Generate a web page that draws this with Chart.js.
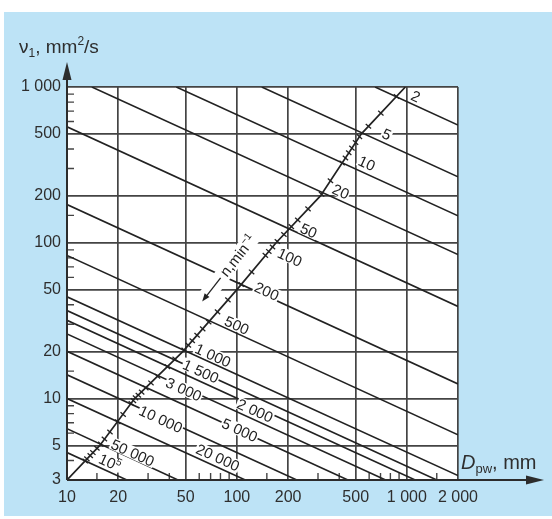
<!DOCTYPE html>
<html>
<head>
<meta charset="utf-8">
<title>Required viscosity</title>
<script src="https://cdn.jsdelivr.net/npm/chart.js@4.4.1/dist/chart.umd.min.js"></script>
<style>
  html, body { margin: 0; padding: 0; background: #fff; }
  canvas { display: block; }
</style>
</head>
<body>
<canvas id="chart" width="552" height="519"></canvas>
<script>
// axis ticks
const xTicks = [10, 20, 50, 100, 200, 500, 1000, 2000];
const yTicks = [3, 5, 10, 20, 50, 100, 200, 500, 1000];
const xMinor = [15, 30, 40, 60, 70, 80, 90, 150, 300, 400, 600, 700, 800, 900, 1500];
const yMinor = [4, 6, 7, 8, 9, 15, 30, 40, 60, 70, 80, 90, 150, 300, 400, 600, 700, 800, 900];

// speed lines n (min^-1): visible start / end
const speedN  = [2, 5, 10, 20, 50, 200, 500, 1000, 1500, 2000, 3000, 5000, 10000, 20000, 50000, 100000];
const startD  = [650, 140, 44, 14, 10, 10, 10, 10, 10, 10, 10, 10, 10, 10, 10, 10];
const startNu = [1000, 1000, 1000, 1000, 555, 176, 83, 45, 36.7, 31.8, 26, 20.1, 14.2, 10, 6.4, 4.5];
const endD    = [2000, 2000, 2000, 2000, 2000, 2000, 2000, 2000, 1500, 1120, 750, 450, 225, 112, 45, 22.5];
const endNu   = [570, 265, 149, 84, 39, 12.4, 5.85, 3.2, 3, 3, 3, 3, 3, 3, 3, 3];

// n scale curve and its hatch marks
const curveD  = [10, 15.6, 25, 48, 100, 170, 310, 540, 980];
const curveNu = [3, 5, 10, 20, 50, 100, 200, 500, 1000];
const markD  = [869, 703, 594, 526, 499, 475, 455, 435, 416, 355, 315, 262, 228, 209, 189, 173, 162, 154,
                147, 122, 106, 88.5, 76.9, 68.2, 62.9, 58.3, 54.6, 51.8, 48.9, 43.3, 39, 34.1, 31.2, 29.1,
                27.5, 26.3, 25.3, 24.6, 23.9, 21.4, 19.9, 17.9, 16.6, 15.8, 15, 14.2, 13.7, 13.1, 12.8];
const markNu = [870, 680, 560, 480, 440, 405, 378, 350, 325, 250, 205, 165, 140, 127, 113, 102, 94, 88,
                83, 65, 54, 43, 36, 31, 28, 25.5, 23.5, 22, 20.5, 17.9, 16, 13.9, 12.6, 11.7,
                11, 10.5, 10.1, 9.7, 9.3, 7.9, 7.1, 6.1, 5.5, 5.1, 4.8, 4.5, 4.3, 4.1, 3.97];

// speed labels
const labelText = ['2', '5', '10', '20', '50', '100', '200', '500', '1 000', '1 500', '3 000', '2 000', '5 000', '10 000', '20 000', '50 000', '10'];
const labelSup  = ['', '', '', '', '', '', '', '', '', '', '', '', '', '', '', '', '5'];
const labelD    = [1130, 762, 582, 409, 265, 205, 150, 100, 72.3, 61.4, 48.7, 128, 104, 35.7, 77.3, 24.4, 17.9];
const labelNu   = [875, 499, 325, 214, 120, 81, 49, 29.6, 19, 15, 11.5, 8.4, 6.3, 7.4, 4.2, 4.5, 3.9];

const FONT = '"Liberation Sans", Arial, sans-serif';
const BLUE = '#bde3f6';
const INK = '#222';
const GRID = '#444';
const TXT = '#2e2e2e';

const fmt = v => v >= 1000 ? String(v).replace(/(\d{3})$/, ' $1') : String(v);

function rich(ctx, x, y, parts) {
  for (const p of parts) {
    ctx.font = (p.it ? 'italic ' : '') + p.s + 'px ' + FONT;
    ctx.fillText(p.t, x, y + (p.dy || 0));
    x += ctx.measureText(p.t).width;
  }
}

function drawLabel(ctx, text, sup, x, y, rot) {
  const fs = 15;
  ctx.save();
  ctx.translate(x, y);
  ctx.rotate(rot * Math.PI / 180);
  ctx.font = fs + 'px ' + FONT;
  const w = ctx.measureText(text).width;
  let ws = 0;
  if (sup) { ctx.font = '10px ' + FONT; ws = ctx.measureText(sup).width; }
  const tot = w + ws;
  ctx.fillStyle = '#fff';
  ctx.fillRect(-tot / 2 - 1, -fs * 0.42, tot + 2, fs * 0.84);
  ctx.fillStyle = INK;
  ctx.textBaseline = 'alphabetic';
  ctx.font = fs + 'px ' + FONT;
  ctx.fillText(text, -tot / 2, fs * 0.36);
  if (sup) { ctx.font = '10px ' + FONT; ctx.fillText(sup, -tot / 2 + w, fs * 0.36 - 6); }
  ctx.restore();
}

function drawSpeedTitle(chart) {
  // "<- n, min^-1" along the curve
  const {ctx, scales} = chart;
  const x = scales.x.getPixelForValue(87.9), y = scales.y.getPixelForValue(67.7);
  ctx.save();
  ctx.translate(x, y);
  ctx.rotate(-52 * Math.PI / 180);
  ctx.font = '15px ' + FONT;
  const w1 = ctx.measureText('n,min').width;
  ctx.font = '10px ' + FONT;
  const w2 = ctx.measureText('\u22121').width;
  const arrow = 30, gap = 4;
  const tot = arrow + gap + w1 + w2;
  const x0 = -tot / 2;
  ctx.fillStyle = '#fff';
  ctx.fillRect(x0 - 2, -8, tot + 4, 16);
  ctx.strokeStyle = INK; ctx.fillStyle = INK; ctx.lineWidth = 1.3;
  ctx.beginPath(); ctx.moveTo(x0 + 5, 0); ctx.lineTo(x0 + arrow, 0); ctx.stroke();
  ctx.beginPath(); ctx.moveTo(x0, 0); ctx.lineTo(x0 + 8, -3); ctx.lineTo(x0 + 8, 3); ctx.closePath(); ctx.fill();
  ctx.font = '15px ' + FONT;
  ctx.fillText('n,min', x0 + arrow + gap, 5);
  ctx.font = '10px ' + FONT;
  ctx.fillText('\u22121', x0 + arrow + gap + w1, -1);
  ctx.restore();
}

const deco = {
  id: 'deco',
  beforeDraw(chart) {
    const {ctx, chartArea: a} = chart;
    ctx.save();
    ctx.fillStyle = '#fff';
    ctx.fillRect(0, 0, chart.width, chart.height);
    ctx.fillStyle = BLUE;
    ctx.fillRect(4, 12, chart.width - 4, 504);
    ctx.fillStyle = '#fff';
    ctx.fillRect(a.left, a.top, a.right - a.left, a.bottom - a.top);
    ctx.restore();
  },
  beforeDatasetsDraw(chart) {
    const {ctx, chartArea: a, scales} = chart;
    ctx.save();
    ctx.strokeStyle = GRID; ctx.lineWidth = 1.4;
    ctx.beginPath();
    xMinor.forEach(v => { const p = scales.x.getPixelForValue(v); ctx.moveTo(p, a.bottom); ctx.lineTo(p, a.bottom - 7); });
    yMinor.forEach(v => { const p = scales.y.getPixelForValue(v); ctx.moveTo(a.left, p); ctx.lineTo(a.left + 7, p); });
    ctx.stroke();
    ctx.restore();
  },
  beforeDatasetDraw(chart, args) {
    if (args.index !== 1) return;
    const {ctx, scales} = chart;
    labelText.forEach((t, i) => {
      drawLabel(ctx, t, labelSup[i], scales.x.getPixelForValue(labelD[i]), scales.y.getPixelForValue(labelNu[i]), 24.5);
    });
    drawSpeedTitle(chart);
  },
  afterDraw(chart) {
    const {ctx, chartArea: a} = chart;
    ctx.save();
    ctx.strokeStyle = '#2c2c2c'; ctx.fillStyle = '#2c2c2c'; ctx.lineWidth = 2;
    ctx.beginPath();
    ctx.moveTo(a.left, a.bottom); ctx.lineTo(a.left, 76);
    ctx.moveTo(a.left, a.bottom); ctx.lineTo(530, a.bottom);
    ctx.stroke();
    ctx.beginPath();
    ctx.moveTo(a.left, 62); ctx.lineTo(a.left - 4.5, 80); ctx.lineTo(a.left + 4.5, 80); ctx.closePath(); ctx.fill();
    ctx.beginPath();
    ctx.moveTo(544, a.bottom); ctx.lineTo(526, a.bottom - 4.5); ctx.lineTo(526, a.bottom + 4.5); ctx.closePath(); ctx.fill();
    ctx.fillStyle = TXT;
    ctx.textBaseline = 'alphabetic';
    rich(ctx, 19, 53, [{t: '\u03bd', s: 19}, {t: '1', s: 12, dy: 4}, {t: ', mm', s: 19}, {t: '2', s: 12, dy: -8}, {t: '/s', s: 19}]);
    rich(ctx, 461, 469, [{t: 'D', s: 20, it: true}, {t: 'pw', s: 13, dy: 4}, {t: ', mm', s: 20}]);
    ctx.restore();
  }
};

const lineSets = speedN.map((n, i) => ({
  label: 'n = ' + n,
  data: [{x: startD[i], y: startNu[i]}, {x: endD[i], y: endNu[i]}],
  borderColor: INK,
  borderWidth: 1.6,
  pointRadius: 0,
  order: 2
}));

new Chart(document.getElementById('chart'), {
  type: 'line',
  data: {
    datasets: [
      {
        label: 'n scale',
        data: curveD.map((d, i) => ({x: d, y: curveNu[i]})),
        borderColor: INK, borderWidth: 1.7, pointRadius: 0, order: 0
      },
      {
        label: 'n marks',
        data: markD.map((d, i) => ({x: d, y: markNu[i]})),
        showLine: false, pointStyle: 'line', pointRadius: 3.5, rotation: 41,
        borderColor: INK, borderWidth: 1.3, order: 1
      },
      ...lineSets
    ]
  },
  options: {
    responsive: false,
    animation: false,
    layout: {padding: {left: 4, top: 87, right: 94, bottom: 0}},
    plugins: {legend: {display: false}, tooltip: {enabled: false}},
    scales: {
      x: {
        type: 'logarithmic', min: 10, max: 2000,
        afterBuildTicks: s => { s.ticks = xTicks.map(v => ({value: v})); },
        afterFit: s => { s.height = 39; },
        ticks: {callback: v => fmt(v), color: TXT, font: {family: FONT, size: 16}, padding: 8, maxRotation: 0, autoSkip: false},
        grid: {color: GRID, lineWidth: 1.7, drawTicks: false},
        border: {display: false}
      },
      y: {
        type: 'logarithmic', min: 3, max: 1000,
        afterBuildTicks: s => { s.ticks = yTicks.map(v => ({value: v})); },
        afterFit: s => { s.width = 63; },
        ticks: {callback: v => fmt(v), color: TXT, font: {family: FONT, size: 16}, padding: 6, autoSkip: false},
        grid: {color: GRID, lineWidth: 1.7, drawTicks: false},
        border: {display: false}
      }
    }
  },
  plugins: [deco]
});
</script>
</body>
</html>
